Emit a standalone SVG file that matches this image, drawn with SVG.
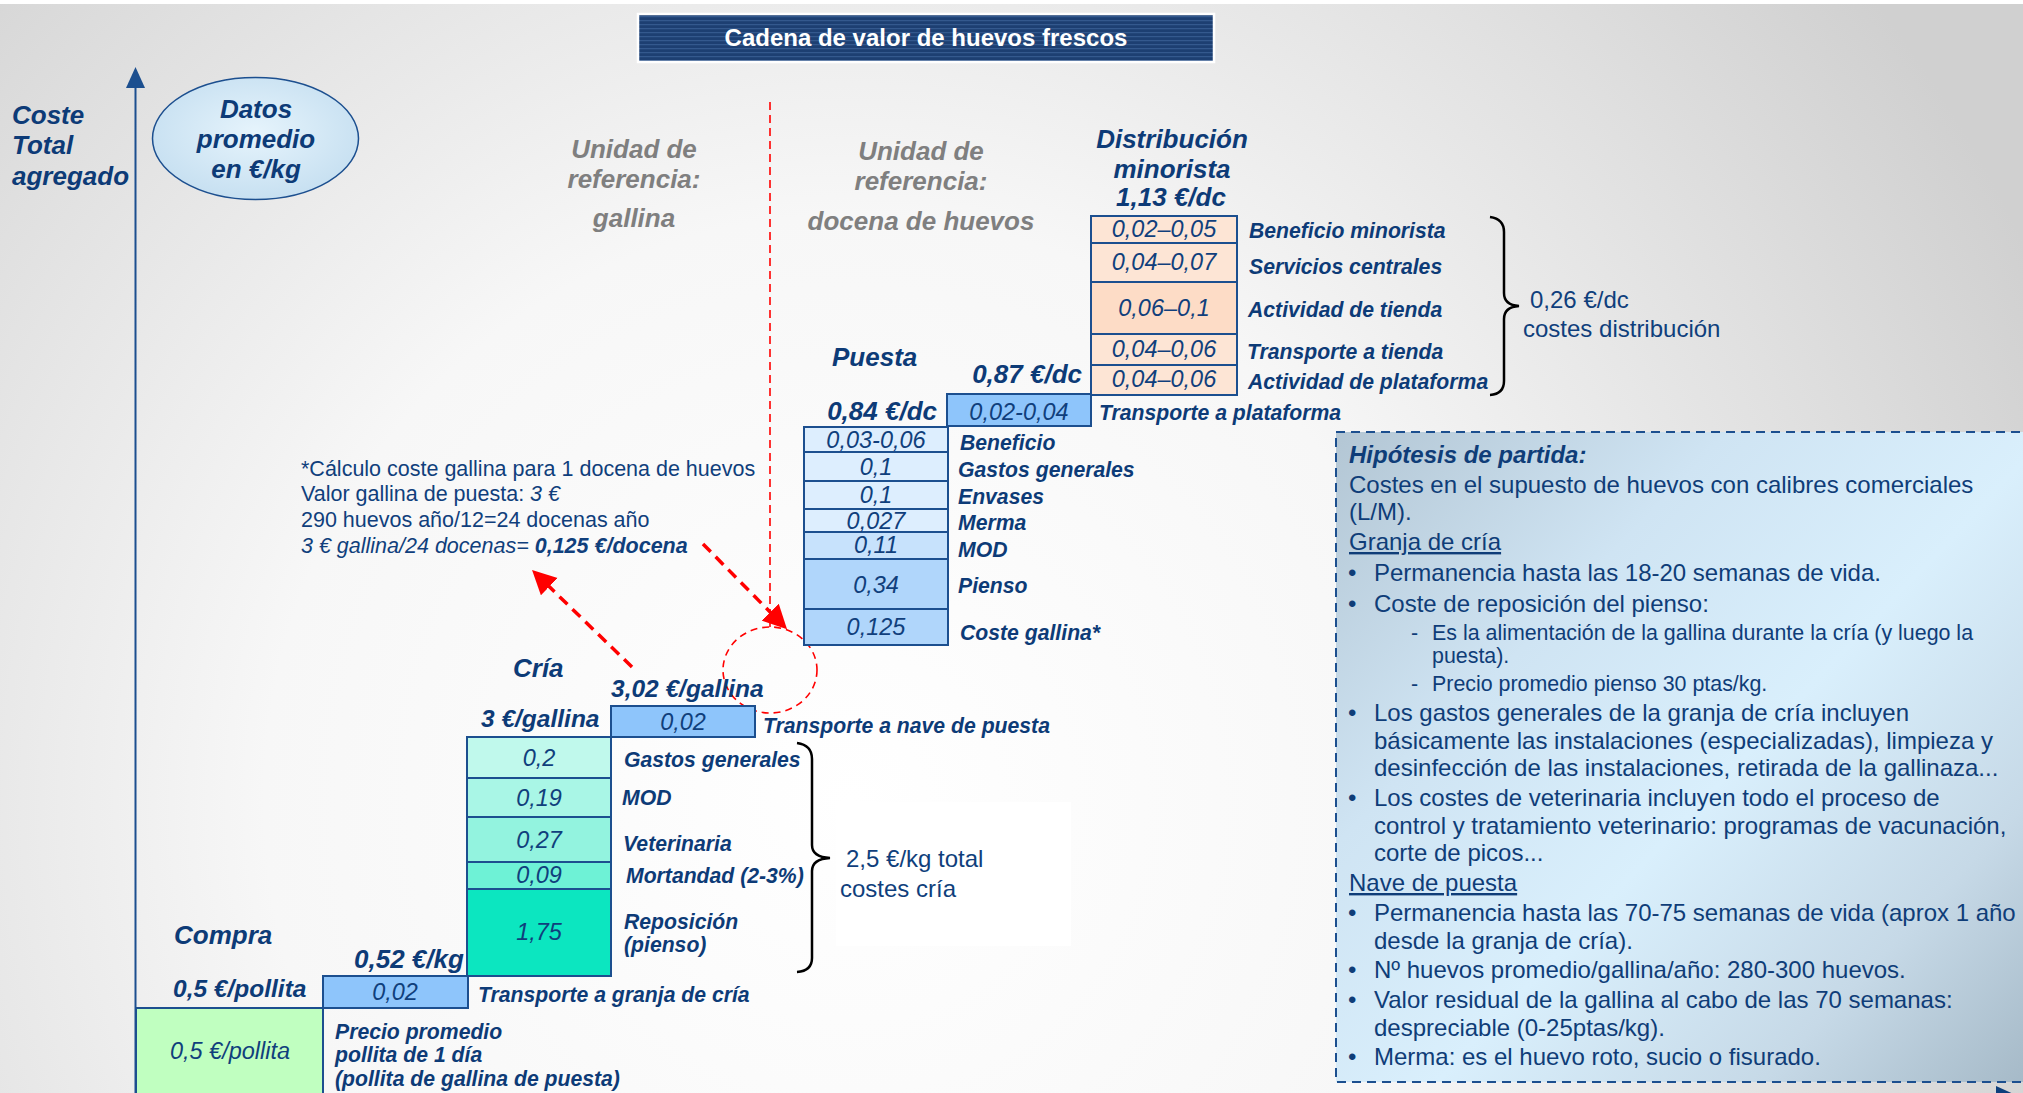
<svg xmlns="http://www.w3.org/2000/svg" width="2023" height="1093" viewBox="0 0 2023 1093">
<defs>
<radialGradient id="bg" gradientUnits="userSpaceOnUse" cx="850" cy="800" r="1300">
<stop offset="0" stop-color="#ffffff"/>
<stop offset="0.45" stop-color="#f7f7f7"/>
<stop offset="0.78" stop-color="#e0e0e0"/>
<stop offset="1" stop-color="#d0d0d0"/>
</radialGradient>
<linearGradient id="hypFill" gradientUnits="userSpaceOnUse" x1="1336" y1="432" x2="2023" y2="1082">
<stop offset="0" stop-color="#b3c6d4"/>
<stop offset="0.3" stop-color="#cfe4f3"/>
<stop offset="0.55" stop-color="#d9effc"/>
<stop offset="0.8" stop-color="#c6d9e7"/>
<stop offset="1" stop-color="#a6bac8"/>
</linearGradient>
<radialGradient id="ellFill" cx="0.5" cy="0.45" r="0.6">
<stop offset="0" stop-color="#e6f4fc"/>
<stop offset="1" stop-color="#c4def0"/>
</radialGradient>
<pattern id="stripes" patternUnits="userSpaceOnUse" width="8" height="4">
<rect width="8" height="4" fill="#1d3f72"/>
<rect width="8" height="1.2" fill="#3a5f95" opacity="0.8"/>
</pattern>
<marker id="redHead" markerUnits="userSpaceOnUse" markerWidth="26" markerHeight="26" refX="4" refY="12" orient="auto">
<path d="M0,0 L24,12 L0,24 z" fill="#ff0000"/>
</marker>
<style>
.box{stroke:#1c4f8f;stroke-width:2}
.val{font-family:"Liberation Sans",Arial,sans-serif;font-style:italic;font-size:23.5px;fill:#103f7c;text-anchor:middle}
.lbl{font-family:"Liberation Sans",Arial,sans-serif;font-weight:bold;font-style:italic;font-size:21.2px;fill:#0d3b77}
.hdr{font-family:"Liberation Sans",Arial,sans-serif;font-weight:bold;font-style:italic;font-size:26px;fill:#0d3b77}
.hdrs{font-family:"Liberation Sans",Arial,sans-serif;font-weight:bold;font-style:italic;font-size:24.5px;fill:#0d3b77}
.gray{font-family:"Liberation Sans",Arial,sans-serif;font-weight:bold;font-style:italic;font-size:26px;fill:#7f7f7f;text-anchor:middle}
.note{font-family:"Liberation Sans",Arial,sans-serif;font-size:21.5px;fill:#103f7c}
.reg{font-family:"Liberation Sans",Arial,sans-serif;font-size:24px;fill:#103f7c}
.hyp{font-family:"Liberation Sans",Arial,sans-serif;font-size:24px;fill:#0f3d78}
.hyps{font-family:"Liberation Sans",Arial,sans-serif;font-size:21.4px;fill:#0f3d78}
.red{stroke:#ff0000;fill:none}
.brace{stroke:#000000;stroke-width:2.5;fill:none}
.lt{fill:#ddeefe}.md{fill:#c7e2fc}.dk{fill:#b0d6fb}.tr{fill:#8ec5fb}
.pe{fill:#fde5d5}.pd{fill:#fddcc6}
</style>
</defs>

<rect x="0" y="0" width="2023" height="1093" fill="url(#bg)"/>
<rect x="0" y="0" width="2023" height="4" fill="#ffffff"/>

<g id="title">
<rect x="638" y="14" width="576" height="48" fill="url(#stripes)" stroke="#ffffff" stroke-width="2.5"/>
<text x="926" y="46" font-family="Liberation Sans, Arial, sans-serif" font-weight="bold" font-size="24" fill="#ffffff" text-anchor="middle">Cadena de valor de huevos frescos</text>
</g>

<g id="axis-label">
<text class="hdr" x="12" y="124">Coste</text>
<text class="hdr" x="12" y="154">Total</text>
<text class="hdr" x="12" y="185">agregado</text>
</g>

<g id="datos-promedio">
<ellipse cx="255.5" cy="138.5" rx="103" ry="61" fill="url(#ellFill)" stroke="#1c4f8f" stroke-width="1.5"/>
<text class="hdr" x="256" y="118" text-anchor="middle">Datos</text>
<text class="hdr" x="256" y="148" text-anchor="middle">promedio</text>
<text class="hdr" x="256" y="178" text-anchor="middle">en €/kg</text>
</g>

<g id="unidad-gallina">
<text class="gray" x="634" y="158">Unidad de</text>
<text class="gray" x="634" y="188">referencia:</text>
<text class="gray" x="634" y="227">gallina</text>
</g>

<g id="unidad-docena">
<text class="gray" x="921" y="160">Unidad de</text>
<text class="gray" x="921" y="190">referencia:</text>
<text class="gray" x="921" y="230">docena de huevos</text>
</g>

<g id="connectors">
<line x1="135.5" y1="85" x2="135.5" y2="1093" stroke="#1c4f8f" stroke-width="2"/>
<polygon points="135.5,67 126,88 145,88" fill="#1c4f8f"/>
<line class="red" x1="770" y1="102" x2="770" y2="627" stroke-width="1.6" stroke-dasharray="8 5"/>
<ellipse class="red" cx="770" cy="670" rx="47" ry="43" stroke-width="1.6" stroke-dasharray="7 5"/>
<line class="red" x1="703" y1="544" x2="773" y2="615" stroke-width="3.5" stroke-dasharray="11 7" marker-end="url(#redHead)"/>
<line class="red" x1="632" y1="667" x2="546.4" y2="583.9" stroke-width="3.5" stroke-dasharray="11 7" marker-end="url(#redHead)"/>
</g>

<g id="calc-note">
<text class="note" x="301" y="476">*Cálculo coste gallina para 1 docena de huevos</text>
<text class="note" x="301" y="501">Valor gallina de puesta: <tspan font-style="italic">3 €</tspan></text>
<text class="note" x="301" y="527">290 huevos año/12=24 docenas año</text>
<text class="note" x="301" y="553" font-style="italic">3 € gallina/24 docenas= <tspan font-weight="bold">0,125 €/docena</tspan></text>
</g>

<g id="compra">
<text class="hdr" x="174" y="944">Compra</text>
<text class="hdrs" x="173" y="997">0,5 €/pollita</text>
<rect class="box" x="136" y="1008" width="187" height="100" fill="#c0ffc0"/>
<text class="val" x="230" y="1059" font-size="25">0,5 €/pollita</text>
<text class="lbl" x="335" y="1039">Precio promedio</text>
<text class="lbl" x="335" y="1062">pollita de 1 día</text>
<text class="lbl" x="335" y="1086">(pollita de gallina de puesta)</text>
</g>

<g id="transporte-granja">
<text class="hdr" x="354" y="968">0,52 €/kg</text>
<rect class="box tr" x="323" y="976" width="145" height="32"/>
<text class="val" x="395" y="1000">0,02</text>
<text class="lbl" x="478" y="1002">Transporte a granja de cría</text>
</g>

<g id="cria">
<text class="hdr" x="513" y="677">Cría</text>
<text class="hdrs" x="481" y="727">3 €/gallina</text>
<rect class="box" x="467" y="737" width="144" height="41" fill="#c0f9ec"/>
<rect class="box" x="467" y="778" width="144" height="39" fill="#a9f6e6"/>
<rect class="box" x="467" y="817" width="144" height="45" fill="#93f3df"/>
<rect class="box" x="467" y="862" width="144" height="27" fill="#6ef2d6"/>
<rect class="box" x="467" y="889" width="144" height="87" fill="#0ce6c0"/>
<text class="val" x="539" y="766">0,2</text>
<text class="val" x="539" y="806">0,19</text>
<text class="val" x="539" y="848">0,27</text>
<text class="val" x="539" y="883">0,09</text>
<text class="val" x="539" y="940">1,75</text>
<text class="lbl" x="624" y="767">Gastos generales</text>
<text class="lbl" x="622" y="805">MOD</text>
<text class="lbl" x="623" y="851">Veterinaria</text>
<text class="lbl" x="626" y="883">Mortandad (2-3%)</text>
<text class="lbl" x="624" y="929">Reposición</text>
<text class="lbl" x="624" y="952">(pienso)</text>
</g>

<g id="cria-total">
<path class="brace" d="M797,743 Q812,745 812,759 L812,845 Q812,857 830,858 Q812,859 812,871 L812,958 Q812,971 797,972"/>
<rect x="836" y="802" width="235" height="144" fill="#ffffff"/>
<text class="reg" x="846" y="867">2,5 €/kg total</text>
<text class="reg" x="840" y="897">costes cría</text>
</g>

<g id="transporte-nave">
<text class="hdrs" x="611" y="697">3,02 €/gallina</text>
<rect class="box tr" x="611" y="706" width="144" height="31"/>
<text class="val" x="683" y="730">0,02</text>
<text class="lbl" x="763" y="733">Transporte a nave de puesta</text>
</g>

<g id="puesta">
<text class="hdr" x="832" y="366">Puesta</text>
<text class="hdr" x="937" y="420" text-anchor="end">0,84 €/dc</text>
<rect class="box lt" x="804" y="427" width="144" height="25"/>
<rect class="box lt" x="804" y="452" width="144" height="29"/>
<rect class="box lt" x="804" y="481" width="144" height="28"/>
<rect class="box lt" x="804" y="509" width="144" height="23"/>
<rect class="box md" x="804" y="532" width="144" height="27"/>
<rect class="box dk" x="804" y="559" width="144" height="50"/>
<rect class="box dk" x="804" y="609" width="144" height="36"/>
<text class="val" x="876" y="448">0,03-0,06</text>
<text class="val" x="876" y="475">0,1</text>
<text class="val" x="876" y="503">0,1</text>
<text class="val" x="876" y="529">0,027</text>
<text class="val" x="876" y="553">0,11</text>
<text class="val" x="876" y="593">0,34</text>
<text class="val" x="876" y="635">0,125</text>
<text class="lbl" x="960" y="450">Beneficio</text>
<text class="lbl" x="958" y="477">Gastos generales</text>
<text class="lbl" x="958" y="504">Envases</text>
<text class="lbl" x="958" y="530">Merma</text>
<text class="lbl" x="958" y="557">MOD</text>
<text class="lbl" x="958" y="593">Pienso</text>
<text class="lbl" x="960" y="640">Coste gallina*</text>
</g>

<g id="transporte-plataforma">
<text class="hdr" x="1082" y="383" text-anchor="end">0,87 €/dc</text>
<rect class="box tr" x="947" y="394" width="144" height="32"/>
<text class="val" x="1019" y="420">0,02-0,04</text>
<text class="lbl" x="1099" y="420">Transporte a plataforma</text>
</g>

<g id="distribucion">
<text class="hdr" x="1172" y="148" text-anchor="middle">Distribución</text>
<text class="hdr" x="1172" y="178" text-anchor="middle">minorista</text>
<text class="hdr" x="1171" y="206" text-anchor="middle">1,13 €/dc</text>
<rect class="box pe" x="1091" y="216" width="146" height="27"/>
<rect class="box pe" x="1091" y="243" width="146" height="39"/>
<rect class="box pd" x="1091" y="282" width="146" height="52"/>
<rect class="box pe" x="1091" y="334" width="146" height="31"/>
<rect class="box pe" x="1091" y="365" width="146" height="30"/>
<text class="val" x="1164" y="237">0,02–0,05</text>
<text class="val" x="1164" y="270">0,04–0,07</text>
<text class="val" x="1164" y="316">0,06–0,1</text>
<text class="val" x="1164" y="357">0,04–0,06</text>
<text class="val" x="1164" y="387">0,04–0,06</text>
<text class="lbl" x="1249" y="238">Beneficio minorista</text>
<text class="lbl" x="1249" y="274">Servicios centrales</text>
<text class="lbl" x="1248" y="317">Actividad de tienda</text>
<text class="lbl" x="1247" y="359">Transporte a tienda</text>
<text class="lbl" x="1248" y="389">Actividad de plataforma</text>
</g>

<g id="distribucion-total">
<path class="brace" d="M1490,217 Q1504,219 1504,232 L1504,293 Q1504,305 1519,306 Q1504,307 1504,319 L1504,381 Q1504,394 1490,395"/>
<text class="reg" x="1530" y="308">0,26 €/dc</text>
<text class="reg" x="1523" y="337">costes distribución</text>
</g>

<g id="hipotesis">
<rect x="1336" y="432" width="700" height="650" fill="url(#hypFill)" stroke="#1c4f8f" stroke-width="2" stroke-dasharray="9 6"/>
<text class="hyp" x="1349" y="463" font-weight="bold" font-style="italic">Hipótesis de partida:</text>
<text class="hyp" x="1349" y="493">Costes en el supuesto de huevos con calibres comerciales</text>
<text class="hyp" x="1349" y="520">(L/M).</text>
<text class="hyp" x="1349" y="550" text-decoration="underline">Granja de cría</text>
<text class="hyp" x="1348" y="581">•</text>
<text class="hyp" x="1374" y="581">Permanencia hasta las 18-20 semanas de vida.</text>
<text class="hyp" x="1348" y="612">•</text>
<text class="hyp" x="1374" y="612">Coste de reposición del pienso:</text>
<text class="hyps" x="1411" y="640">-</text>
<text class="hyps" x="1432" y="640">Es la alimentación de la gallina durante la cría (y luego la</text>
<text class="hyps" x="1432" y="663">puesta).</text>
<text class="hyps" x="1411" y="691">-</text>
<text class="hyps" x="1432" y="691">Precio promedio pienso 30 ptas/kg.</text>
<text class="hyp" x="1348" y="721">•</text>
<text class="hyp" x="1374" y="721">Los gastos generales de la granja de cría incluyen</text>
<text class="hyp" x="1374" y="749">básicamente las instalaciones (especializadas), limpieza y</text>
<text class="hyp" x="1374" y="776">desinfección de las instalaciones, retirada de la gallinaza...</text>
<text class="hyp" x="1348" y="806">•</text>
<text class="hyp" x="1374" y="806">Los costes de veterinaria incluyen todo el proceso de</text>
<text class="hyp" x="1374" y="834">control y tratamiento veterinario: programas de vacunación,</text>
<text class="hyp" x="1374" y="861">corte de picos...</text>
<text class="hyp" x="1349" y="891" text-decoration="underline">Nave de puesta</text>
<text class="hyp" x="1348" y="921">•</text>
<text class="hyp" x="1374" y="921">Permanencia hasta las 70-75 semanas de vida (aprox 1 año</text>
<text class="hyp" x="1374" y="949">desde la granja de cría).</text>
<text class="hyp" x="1348" y="978">•</text>
<text class="hyp" x="1374" y="978">Nº huevos promedio/gallina/año: 280-300 huevos.</text>
<text class="hyp" x="1348" y="1008">•</text>
<text class="hyp" x="1374" y="1008">Valor residual de la gallina al cabo de las 70 semanas:</text>
<text class="hyp" x="1374" y="1036">despreciable (0-25ptas/kg).</text>
<text class="hyp" x="1348" y="1065">•</text>
<text class="hyp" x="1374" y="1065">Merma: es el huevo roto, sucio o fisurado.</text>
</g>

<polygon points="1996,1086 2018,1096 1996,1106" fill="#0d3f7c"/>
</svg>
